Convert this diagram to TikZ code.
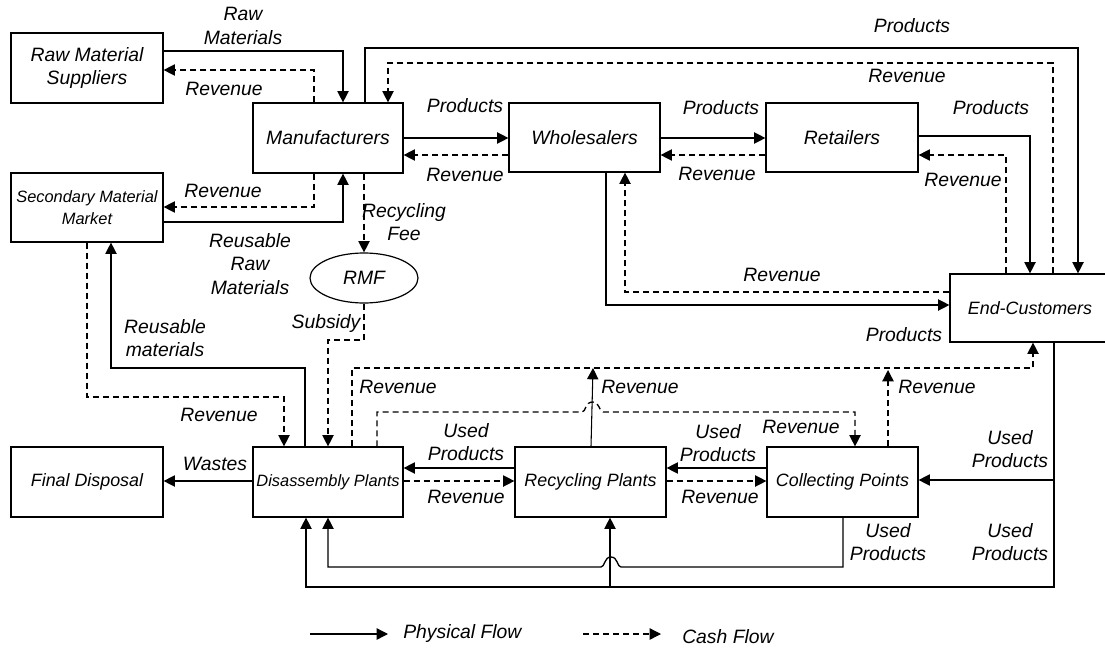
\documentclass[tikz,border=0pt]{standalone}
\usepackage{fontspec}
\setmainfont{Liberation Sans}
\usetikzlibrary{arrows.meta,shapes.geometric}
\begin{document}
\begin{tikzpicture}[x=0.75pt,y=-0.75pt,
  box/.style={draw, line width=0.9pt, rectangle, inner sep=0pt, align=center},
  big/.style={font=\fontsize{14.5}{17.5}\selectfont\itshape},
  mid/.style={font=\fontsize{13.4}{16}\selectfont\itshape},
  small/.style={font=\fontsize{12.3}{16.5}\selectfont\itshape},
  lbl/.style={font=\fontsize{14.5}{17.5}\selectfont\itshape, align=center, inner sep=0pt},
  phys/.style={line width=1pt, -{Triangle[length=8.5pt,width=8.5pt]}},
  cash/.style={line width=1pt, dash pattern=on 4.5pt off 3pt, -{Triangle[length=8.5pt,width=8.5pt]}},
  thin/.style={line width=0.8pt, -{Triangle[length=8.5pt,width=8.5pt]}},
]
\clip (0,0) rectangle (1105,649);
\fill[white] (0,0) rectangle (1105,649);

% boxes
\node[box,big,minimum width=114pt,minimum height=52.5pt] (rms) at (87,68) {Raw Material\\Suppliers};
\node[box,small,minimum width=114pt,minimum height=51.75pt] (smm) at (87,207.5) {Secondary Material\\Market};
\node[box,big,minimum width=112.5pt,minimum height=52.5pt] (man) at (328,138) {Manufacturers};
\node[box,big,minimum width=113.25pt,minimum height=51.75pt] (who) at (584.5,137.5) {Wholesalers};
\node[box,big,minimum width=114pt,minimum height=51.75pt] (ret) at (842,137.5) {Retailers};
\node[box,mid,minimum width=120pt,minimum height=51pt] (end) at (1030,308) {End-Customers};
\node[box,mid,minimum width=114pt,minimum height=52.5pt] (fd) at (87,482) {Final Disposal};
\node[box,small,minimum width=112.5pt,minimum height=52.5pt] (dis) at (328,482) {Disassembly Plants};
\node[box,mid,minimum width=113.25pt,minimum height=52.5pt] (rec) at (590.5,482) {Recycling Plants};
\node[box,mid,minimum width=113.25pt,minimum height=52.5pt] (col) at (842.5,482) {Collecting Points};
\node[draw,ellipse,line width=0.9pt,big,inner sep=0pt,minimum width=81pt,minimum height=37.5pt] (rmf) at (364,278) {RMF};

% junction / free-end coordinates
\coordinate (tipR) at (593,368);
\coordinate (tipC) at (888,370);
\coordinate (jE) at (1054,480);
\coordinate (jR) at (610,587);

% top-left flows
\draw[phys] (rms.east |- 0,51) -| (man.north -| 343,0);
\draw[cash] (man.north -| 314,0) |- (rms.east |- 0,70);
\draw[cash] (man.south -| 314,0) |- (smm.east |- 0,207);
\draw[phys] (smm.east |- 0,222) -| (man.south -| 343,0);
\draw[cash] (man.south -| 364,0) -- (rmf.north);
\draw[cash] (rmf.south) |- (328,340) -- (dis.north -| 328,0);

% top row
\draw[phys] (man.east |- 0,138) -- (who.west |- 0,138);
\draw[cash] (who.west |- 0,155) -- (man.east |- 0,155);
\draw[phys] (who.east |- 0,138) -- (ret.west |- 0,138);
\draw[cash] (ret.west |- 0,155) -- (who.east |- 0,155);
\draw[phys] (ret.east |- 0,136) -| (end.north -| 1030,0);
\draw[cash] (end.north -| 1006,0) |- (ret.east |- 0,155);
\draw[phys] (man.north -| 365,0) |- (1078,48) -- (end.north -| 1078,0);
\draw[cash] (end.north -| 1053,0) |- (388,63) -- (man.north -| 388,0);
\draw[phys] (who.south -| 606,0) |- (end.west |- 0,305);
\draw[cash] (end.west |- 0,292) -| (who.south -| 625,0);

% left-bottom flows
\draw[cash] (smm.south -| 87,0) |- (284,397) -- (dis.north -| 284,0);
\draw[phys] (dis.north -| 305,0) |- (111,368) -- (smm.south -| 111,0);
\draw[phys] (dis.west |- 0,481) -- (fd.east |- 0,481);

% revenue lines above bottom row
\draw[cash] (dis.north -| 352,0) |- (1033,368) -- (end.south -| 1033,0);
\draw[thin] (rec.north -| 591,0) -- (tipR);
\draw[cash] (dis.north -| 377,0) |- (582,412) .. controls (586,412) and (585,402) .. (592.5,402) .. controls (600,402) and (599,412) .. (603,412) -| (col.north -| 855,0);
\draw[cash] (col.north -| 888,0) -- (tipC);

% bottom row
\draw[phys] (rec.west |- 0,468) -- (dis.east |- 0,468);
\draw[cash] (dis.east |- 0,481) -- (rec.west |- 0,481);
\draw[phys] (col.west |- 0,468) -- (rec.east |- 0,468);
\draw[cash] (rec.east |- 0,481) -- (col.west |- 0,481);

% used products returns
\draw[phys] (end.south -| 1054,0) |- (306,587) -- (dis.south -| 306,0);
\draw[phys] (jE) -- (col.east |- jE);
\draw[phys] (jR) -- (rec.south -| jR);
\draw[phys] (col.south -| 843,0) |- (621,567) .. controls (617,567) and (618,557) .. (611,557) .. controls (604,557) and (605,567) .. (601,567) -| (dis.south -| 328,0);

% labels
\node[lbl] at (243,26) {Raw\\Materials};
\node[lbl] at (224,89) {Revenue};
\node[lbl] at (223,191) {Revenue};
\node[lbl] at (250,264) {Reusable\\Raw\\Materials};
\node[lbl] at (404,222) {Recycling\\Fee};
\node[lbl] at (326,323) {Subsidy};
\node[lbl] at (465,106) {Products};
\node[lbl] at (465,175) {Revenue};
\node[lbl] at (721,108) {Products};
\node[lbl] at (717,174) {Revenue};
\node[lbl] at (991,108) {Products};
\node[lbl] at (963,180) {Revenue};
\node[lbl] at (912,26) {Products};
\node[lbl] at (907,76) {Revenue};
\node[lbl] at (904,335) {Products};
\node[lbl] at (782,275) {Revenue};
\node[lbl] at (219,415) {Revenue};
\node[lbl] at (165,338) {Reusable\\materials};
\node[lbl] at (215,464) {Wastes};
\node[lbl] at (398,387) {Revenue};
\node[lbl] at (640,387) {Revenue};
\node[lbl] at (801,427) {Revenue};
\node[lbl] at (937,387) {Revenue};
\node[lbl] at (466,442) {Used\\Products};
\node[lbl] at (466,497) {Revenue};
\node[lbl] at (718,443) {Used\\Products};
\node[lbl] at (720,497) {Revenue};
\node[lbl] at (1010,449) {Used\\Products};
\node[lbl] at (888,542) {Used\\Products};
\node[lbl] at (1010,542) {Used\\Products};

% legend
\coordinate (la) at (310,634);
\coordinate (lb) at (388,634);
\coordinate (lc) at (583,634);
\coordinate (ld) at (661,634);
\draw[phys] (la) -- (lb);
\draw[cash] (lc) -- (ld);
\node[lbl,anchor=west] (lp) at (403,633) {Physical Flow};
\node[lbl,anchor=west] (lq) at (682,637) {Cash Flow};
\end{tikzpicture}
\end{document}
